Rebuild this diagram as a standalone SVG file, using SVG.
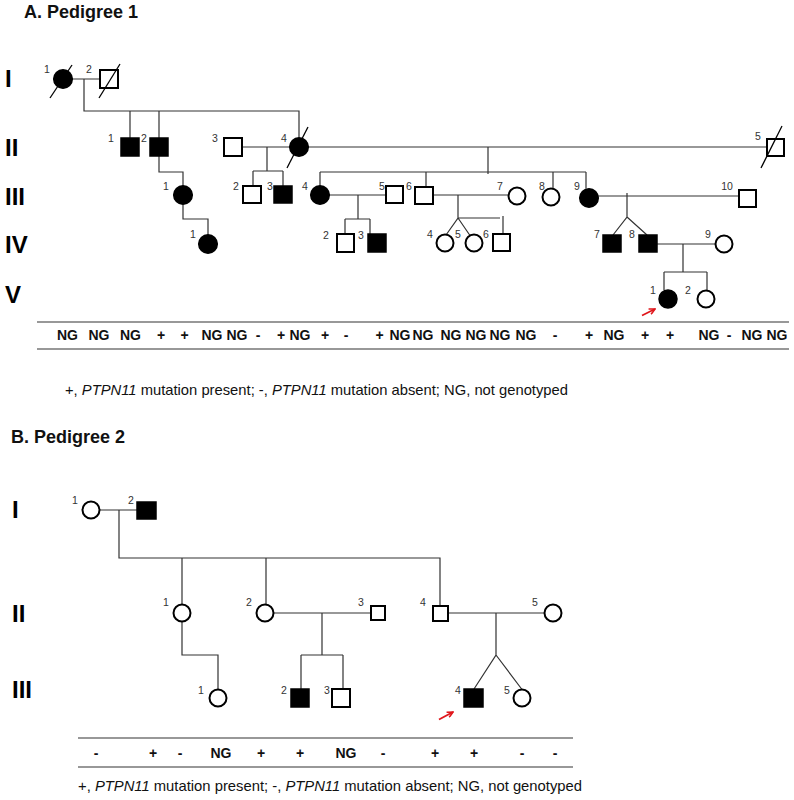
<svg xmlns="http://www.w3.org/2000/svg" width="794" height="800" viewBox="0 0 794 800">
<defs>
<style>
text{font-family:"Liberation Sans",Arial,sans-serif}
.title{font-size:18px;font-weight:bold;fill:#111}
.gen{font-size:24px;font-weight:bold;fill:#000}
.num{font-size:10.5px;fill:#333;text-anchor:middle}
.gt{font-size:14px;font-weight:bold;fill:#111;text-anchor:middle}
.leg{font-size:15px;fill:#111}
.o{fill:#fff;stroke:#000;stroke-width:2}
.f{fill:#000;stroke:#000;stroke-width:1.5}
.sl{stroke:#000;stroke-width:1.3}
.ln{fill:none;stroke:#333;stroke-width:1.2}
.arr{fill:none;stroke:#e0161b;stroke-width:1.8;marker-end:url(#ah)}
</style>
<marker id="ah" viewBox="0 0 10 10" refX="9" refY="5" markerWidth="4" markerHeight="4" orient="auto" markerUnits="strokeWidth">
<path d="M1 1 L9 5 L1 9" fill="none" stroke="#e0161b" stroke-width="2.2"/>
</marker>
</defs>
<rect width="794" height="800" fill="#fff"/>

<!-- ===== Pedigree 1 ===== -->
<text class="title" x="24" y="18">A. Pedigree 1</text>
<g id="p1-gen-labels">
<text class="gen" x="5" y="87">I</text>
<text class="gen" x="5" y="156">II</text>
<text class="gen" x="5" y="205">III</text>
<text class="gen" x="5" y="253">IV</text>
<text class="gen" x="5" y="303">V</text>
</g>

<g id="p1-connectors">
<path class="ln" d="M72 79 H100 M84 79 V111 H299 V137.5 M130 111 V138 M159 111 V138"/>
<path class="ln" d="M159 156 V172 H183 V185.5"/>
<path class="ln" d="M183 204.5 V219 H208 V234.5"/>
<path class="ln" d="M242 147 H290 M267 147 V171 M253 171 H283 M253 171 V186 M283 171 V186"/>
<path class="ln" d="M308 147 H767 M488 147 V174 M320 172 H586 M320 172 V185.5 M426 172 V187 M553 172 V188 M586 172 V188.5"/>
<path class="ln" d="M329 195 H386 M358 195 V219 M345 219 H370 M345 219 V234 M370 219 V234"/>
<path class="ln" d="M433 195 H508 M458 195 V218 L446 235 M458 218 L470 235.5 M458 218 H500 M503 216 V234"/>
<path class="ln" d="M598 196 H739 M627 193 V217 L613 235 M627 217 L647 235"/>
<path class="ln" d="M657 244 H715 M683 244 V272 M664 272 H707 M664 272 V290 M707 272 V290"/>
<path class="arr" d="M642 315.5 L655 309"/>
</g>

<g id="p1-I-1"><circle class="f" cx="63" cy="79" r="9.3"/><line class="sl" x1="50" y1="98" x2="72" y2="65"/><text class="num" x="47" y="73">1</text></g>
<g id="p1-I-2"><rect class="o" x="100" y="70" width="18" height="18"/><line class="sl" x1="99" y1="98" x2="120" y2="64"/><text class="num" x="89" y="73">2</text></g>
<g id="p1-II-1"><rect class="f" x="121" y="138" width="18" height="18"/><text class="num" x="111" y="142">1</text></g>
<g id="p1-II-2"><rect class="f" x="150" y="138" width="18" height="18"/><text class="num" x="144" y="142">2</text></g>
<g id="p1-II-3"><rect class="o" x="224" y="138" width="18" height="18"/><text class="num" x="215" y="142">3</text></g>
<g id="p1-II-4"><circle class="f" cx="299" cy="147" r="9.3"/><line class="sl" x1="287" y1="168" x2="308" y2="127"/><text class="num" x="284" y="142">4</text></g>
<g id="p1-II-5"><rect class="o" x="767" y="139" width="17" height="17"/><line class="sl" x1="761" y1="168" x2="782" y2="126"/><text class="num" x="758" y="140">5</text></g>

<g id="p1-III-1"><circle class="f" cx="183" cy="195" r="9.3"/><text class="num" x="166" y="190">1</text></g>
<g id="p1-III-2"><rect class="o" x="243" y="186" width="18" height="17"/><text class="num" x="236" y="190">2</text></g>
<g id="p1-III-3"><rect class="f" x="274" y="186" width="18" height="17"/><text class="num" x="270" y="190">3</text></g>
<g id="p1-III-4"><circle class="f" cx="320" cy="195" r="9.3"/><text class="num" x="305" y="190">4</text></g>
<g id="p1-III-5"><rect class="o" x="386" y="186" width="17" height="17"/><text class="num" x="382" y="190">5</text></g>
<g id="p1-III-6"><rect class="o" x="415" y="187" width="18" height="17"/><text class="num" x="409" y="190">6</text></g>
<g id="p1-III-7"><circle class="o" cx="517" cy="196" r="8.5"/><text class="num" x="500" y="190">7</text></g>
<g id="p1-III-8"><circle class="o" cx="551" cy="197" r="8.5"/><text class="num" x="542" y="190">8</text></g>
<g id="p1-III-9"><circle class="f" cx="589" cy="198" r="9.3"/><text class="num" x="577" y="190">9</text></g>
<g id="p1-III-10"><rect class="o" x="739" y="190" width="17" height="17"/><text class="num" x="727" y="190">10</text></g>

<g id="p1-IV-1"><circle class="f" cx="208" cy="244" r="9.3"/><text class="num" x="193" y="238">1</text></g>
<g id="p1-IV-2"><rect class="o" x="337" y="234" width="17" height="18"/><text class="num" x="326" y="239">2</text></g>
<g id="p1-IV-3"><rect class="f" x="368" y="234" width="18" height="18"/><text class="num" x="361" y="239">3</text></g>
<g id="p1-IV-4"><circle class="o" cx="445" cy="243" r="8.5"/><text class="num" x="430" y="238">4</text></g>
<g id="p1-IV-5"><circle class="o" cx="474" cy="243" r="8.5"/><text class="num" x="458" y="238">5</text></g>
<g id="p1-IV-6"><rect class="o" x="493" y="234" width="17" height="17"/><text class="num" x="486" y="238">6</text></g>
<g id="p1-IV-7"><rect class="f" x="603" y="235" width="18" height="17"/><text class="num" x="597" y="238">7</text></g>
<g id="p1-IV-8"><rect class="f" x="639" y="235" width="18" height="17"/><text class="num" x="632" y="238">8</text></g>
<g id="p1-IV-9"><circle class="o" cx="724" cy="244" r="8.5"/><text class="num" x="708" y="238">9</text></g>
<g id="p1-V-1"><circle class="f" cx="668" cy="299" r="9"/><text class="num" x="653" y="294">1</text></g>
<g id="p1-V-2"><circle class="o" cx="706" cy="299" r="8.5"/><text class="num" x="688" y="294">2</text></g>

<g id="p1-genotypes">
<path class="ln" d="M37 322 H789 M37 349 H789"/>
<text class="gt" y="340"><tspan x="67.5">NG</tspan><tspan x="99">NG</tspan><tspan x="130.5">NG</tspan><tspan x="161">+</tspan><tspan x="184.5">+</tspan><tspan x="212">NG</tspan><tspan x="237">NG</tspan><tspan x="258">-</tspan><tspan x="281">+</tspan><tspan x="300">NG</tspan><tspan x="325">+</tspan><tspan x="346">-</tspan><tspan x="379.5">+</tspan><tspan x="400">NG</tspan><tspan x="423">NG</tspan><tspan x="451">NG</tspan><tspan x="476">NG</tspan><tspan x="500">NG</tspan><tspan x="526">NG</tspan><tspan x="555">-</tspan><tspan x="589">+</tspan><tspan x="614">NG</tspan><tspan x="645">+</tspan><tspan x="670">+</tspan><tspan x="709">NG</tspan><tspan x="729">-</tspan><tspan x="752">NG</tspan><tspan x="777">NG</tspan></text>
</g>
<text class="leg" x="65" y="395" textLength="503" lengthAdjust="spacingAndGlyphs">+, <tspan font-style="italic">PTPN11</tspan> mutation present; -, <tspan font-style="italic">PTPN11</tspan> mutation absent; NG, not genotyped</text>

<!-- ===== Pedigree 2 ===== -->
<text class="title" x="11" y="443">B. Pedigree 2</text>
<g id="p2-gen-labels">
<text class="gen" x="12" y="518">I</text>
<text class="gen" x="12" y="622">II</text>
<text class="gen" x="12" y="698">III</text>
</g>

<g id="p2-connectors">
<path class="ln" d="M100 510 H137 M119 510 V558 H440 V606 M182 558 V604.5 M266 558 V604.5"/>
<path class="ln" d="M182 621.5 V655 H218 V689.5"/>
<path class="ln" d="M274 613 H371 M322 613 V655 M301 655 H343 M301 655 V689 M343 655 V689"/>
<path class="ln" d="M448 613 H544.5 M496 613 V655 L474 689 M496 655 L522 689.5"/>
<path class="arr" d="M439 719.5 L453 712"/>
</g>

<g id="p2-I-1"><circle class="o" cx="91" cy="510" r="8.5"/><text class="num" x="75" y="504">1</text></g>
<g id="p2-I-2"><rect class="f" x="137" y="502" width="19" height="17"/><text class="num" x="131" y="504">2</text></g>
<g id="p2-II-1"><circle class="o" cx="182" cy="613" r="8.5"/><text class="num" x="166" y="606">1</text></g>
<g id="p2-II-2"><circle class="o" cx="265" cy="613" r="8.5"/><text class="num" x="249" y="606">2</text></g>
<g id="p2-II-3"><rect class="o" x="371" y="606" width="14" height="14"/><text class="num" x="361" y="606">3</text></g>
<g id="p2-II-4"><rect class="o" x="433" y="606" width="15" height="15"/><text class="num" x="423" y="606">4</text></g>
<g id="p2-II-5"><circle class="o" cx="553" cy="613" r="8.5"/><text class="num" x="535" y="606">5</text></g>
<g id="p2-III-1"><circle class="o" cx="218" cy="698" r="8.5"/><text class="num" x="201" y="694">1</text></g>
<g id="p2-III-2"><rect class="f" x="291" y="689" width="18" height="18"/><text class="num" x="284" y="694">2</text></g>
<g id="p2-III-3"><rect class="o" x="332" y="689" width="18" height="18"/><text class="num" x="327" y="694">3</text></g>
<g id="p2-III-4"><rect class="f" x="464" y="689" width="19" height="18"/><text class="num" x="458" y="694">4</text></g>
<g id="p2-III-5"><circle class="o" cx="522" cy="698" r="8.5"/><text class="num" x="507" y="694">5</text></g>

<g id="p2-genotypes">
<path class="ln" d="M78 738 H573 M78 767 H573"/>
<text class="gt" y="758"><tspan x="96">-</tspan><tspan x="153">+</tspan><tspan x="180">-</tspan><tspan x="221">NG</tspan><tspan x="261">+</tspan><tspan x="300">+</tspan><tspan x="346">NG</tspan><tspan x="383">-</tspan><tspan x="435">+</tspan><tspan x="474">+</tspan><tspan x="522">-</tspan><tspan x="555">-</tspan></text>
</g>
<text class="leg" x="78" y="791" textLength="504" lengthAdjust="spacingAndGlyphs">+, <tspan font-style="italic">PTPN11</tspan> mutation present; -, <tspan font-style="italic">PTPN11</tspan> mutation absent; NG, not genotyped</text>
</svg>
